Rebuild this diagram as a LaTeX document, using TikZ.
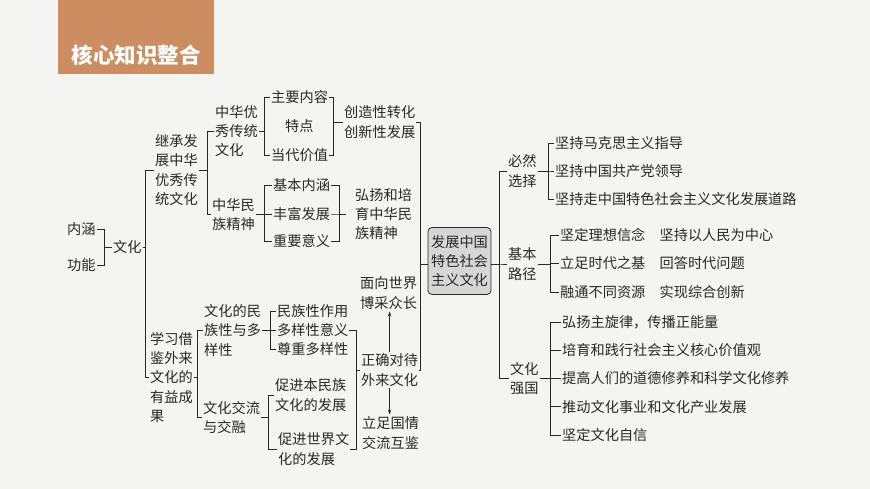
\documentclass[tikz,border=0pt]{standalone}
\usepackage{fontspec}
\usepackage{xcolor}
\usepackage{tikz}
\usetikzlibrary{arrows.meta,calc}
\newfontfamily\cjk{Noto Sans CJK SC}
\definecolor{bgpaper}{RGB}{244,244,243}
\definecolor{titlebg}{RGB}{204,142,96}
\definecolor{inkgray}{RGB}{40,40,40}
\definecolor{boxfill}{RGB}{214,214,214}

\begin{document}
\begin{tikzpicture}[x=1pt,y=-1pt]
            \tikzset{item/.style = {anchor=west, align=left, inner xsep=1pt, inner ysep=2pt, text=inkgray, font=\cjk\fontsize{14.2}{19.4}\selectfont}}
            \tikzset{edge/.style = {draw=inkgray, line width=0.8pt}}
            \tikzset{arrow/.style = {edge, -{Stealth[length=5pt,width=3.5pt]}}}

            \useasboundingbox (0,0) rectangle (870,489);
            \fill[bgpaper] (0,0) rectangle (870,489);
            \fill[titlebg] (58,0) rectangle (214,74);
            \node[text=white, font=\cjk\bfseries\fontsize{21.5}{24}\selectfont] (title) at (136,55) {核心知识整合};

            % vertices
            \node[item] (nh) at (66,229) {内涵};
            \node[item] (gn) at (66,265) {功能};
            \node[item] (wh) at (112,247) {文化};
            \node[item] (jc) at (154,170) {继承发\\展中华\\优秀传\\统文化};
            \node[item] (xx) at (149,377.5) {学习借\\鉴外来\\文化的\\有益成\\果};
            \node[item] (zhyx) at (214,131) {中华优\\秀传统\\文化};
            \node[item] (zhmz) at (211,214.5) {中华民\\族精神};
            \node[item] (zynr) at (270,97) {主要内容};
            \node[item] (td) at (284,126) {特点};
            \node[item] (ddjz) at (270,155) {当代价值};
            \node[item] (czx) at (343,122) {创造性转化\\创新性发展};
            \node[item] (jbnh) at (272,185) {基本内涵};
            \node[item] (ffzh) at (272,214) {丰富发展};
            \node[item] (zyyy) at (272,241) {重要意义};
            \node[item, inner xsep=9pt] (hypy) at (346,214) {弘扬和培\\育中华民\\族精神};
            \node[item] (mzx) at (203,330.5) {文化的民\\族性与多\\样性};
            \node[item] (wjl) at (202,417.5) {文化交流\\与交融};
            \node[item] (mzx1) at (276,311) {民族性作用};
            \node[item] (mzx2) at (276,330) {多样性意义};
            \node[item] (mzx3) at (276,349) {尊重多样性};
            \node[item] (cjbm) at (274,395) {促进本民族\\文化的发展};
            \node[item] (cjsj) at (277,449) {促进世界文\\化的发展};
            \node[item] (zqdd) at (360,370) {正确对待\\外来文化};
            \node[item] (mxsj) at (359,293) {面向世界\\博采众长};
            \node[item] (lzgq) at (361,433) {立足国情\\交流互鉴};
            \node[item, anchor=center, draw=inkgray, fill=boxfill, rounded corners=4pt, minimum width=63pt, minimum height=67pt, line width=0.8pt] (fz) at (459.5,261) {发展中国\\特色社会\\主义文化};
            \node[item] (bryz) at (507,171) {必然\\选择};
            \node[item] (jblj) at (507,264) {基本\\路径};
            \node[item] (whqg) at (509,378.5) {文化\\强国};
            \foreach \i/\t in {1/坚持马克思主义指导, 2/坚持中国共产党领导, 3/坚持走中国特色社会主义文化发展道路}
            {
              \node[item] (b\i) at (554,{143+28*(\i-1)}) {\t};
            }
            \foreach \i/\t in {1/坚定理想信念\quad 坚持以人民为中心, 2/立足时代之基\quad 回答时代问题, 3/融通不同资源\quad 实现综合创新}
            {
              \node[item] (j\i) at (559,{235+28.5*(\i-1)}) {\t};
            }
            \foreach \i/\t in {1/弘扬主旋律，传播正能量, 2/培育和践行社会主义核心价值观, 3/提高人们的道德修养和科学文化修养, 4/推动文化事业和文化产业发展, 5/坚定文化自信}
            {
              \node[item] (w\i) at (561,{322+28.25*(\i-1)}) {\t};
            }

            % edges
            \foreach \n in {nh,gn} {\draw[edge] (\n.east) -- ++(8,0) |- (wh.west);}
            \foreach \n in {jc,xx} {\draw[edge] (wh.east) -- ++(3,0) |- (\n.west);}
            \foreach \n in {zhyx,zhmz} {\draw[edge] (jc.east) -- ++(8,0) |- (\n.west);}
            \foreach \n in {mzx,wjl} {\draw[edge] (xx.east) -- ++(3,0) |- (\n.west);}
            \foreach \n in {zynr,ddjz} {\draw[edge] (zhyx.east) -- ++(5.5,0) |- (\n.west);}
            \foreach \n in {zynr,ddjz} {\draw[edge] (\n.east) -| ($(czx.west)+(-10,0)$) -- (czx.west);}
            \foreach \n in {jbnh,ffzh,zyyy} {\draw[edge] (zhmz.east) -- ++(8.5,0) |- (\n.west);}
            \foreach \n in {jbnh,ffzh,zyyy} {\draw[edge] (\n.east) -| ($(hypy.west)+(-7,0)$) -- (hypy.west);}
            \foreach \n in {mzx1,mzx2,mzx3} {\draw[edge] (mzx.east) -- ++(8,0) |- (\n.west);}
            \foreach \n in {cjbm,cjsj} {\draw[edge] (wjl.east) -- ++(7,0) |- (\n.west);}
            \foreach \n in {mzx2,cjsj} {\draw[edge] (\n.east) -| ($(zqdd.west)+(-4,0)$) -- (zqdd.west);}
            \foreach \n in {czx,zqdd} {\draw[edge] (\n.east) -| ($(fz.west |- jblj.west)+(-7,0)$) -- (fz.west |- jblj.west);}
            \foreach \n in {bryz,jblj,whqg} {\draw[edge] (fz.east |- jblj.west) -- ++(8,0) |- (\n.west);}
            \foreach \i in {1,2,3} {\draw[edge] (bryz.east) -- ++(11,0) |- (b\i.west);}
            \foreach \i in {1,2,3} {\draw[edge] (jblj.east) -- ++(12.5,0) |- (j\i.west);}
            \foreach \i in {1,...,5} {\draw[edge] (whqg.east) -- ++(11,0) |- (w\i.west);}
            \draw[arrow] (zqdd.north) -- (zqdd.north |- mxsj.south);
            \draw[arrow] (zqdd.south) -- (zqdd.south |- lzgq.north);

          \end{tikzpicture}
\end{document}
